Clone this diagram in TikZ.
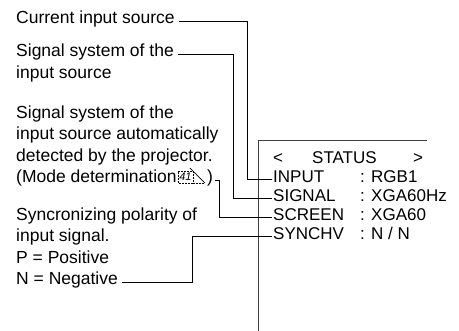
\documentclass[tikz,border=0pt]{standalone}
\usepackage{fontspec}
\setmainfont{Liberation Sans}
\begin{document}
\begin{tikzpicture}[x=1pt,y=-1pt,
  lefttxt/.style={anchor=base west,inner sep=0pt,font=\fontsize{17.5}{21.5}\selectfont},
  righttxt/.style={anchor=base west,inner sep=0pt,font=\fontsize{17}{19}\selectfont},
  leader/.style={line width=0.9pt,black},
  framestyle/.style={line width=0.9pt,black!75}]
\useasboundingbox (0,0) rectangle (459,331);
% left column
\node[lefttxt] (cur) at (16,24) {Current input source};
\node[lefttxt] (sig1) at (16,57) {Signal system of the};
\node[lefttxt] (sig2) at (16,78.5) {input source};
\node[lefttxt] (det1) at (16,118.5) {Signal system of the};
\node[lefttxt] (det2) at (16,140) {input source automatically};
\node[lefttxt] (det3) at (16,161.5) {detected by the projector.};
\node[lefttxt] (det4) at (16,183) {(Mode determination};
\coordinate (ic) at ([xshift=1pt]det4.base east);
\draw[line width=0.5pt,densely dotted] (ic) rectangle ([shift={(15,-12)}]ic);
\node[anchor=base,inner sep=0pt,font=\fontsize{11}{11}\selectfont\itshape] (pg) at ([xshift=7.5pt,yshift=2pt]ic) {41};
\draw[line width=0.7pt] ([shift={(12,-15)}]ic) -- ([shift={(27,0)}]ic);
\draw[line width=0.5pt,densely dotted] ([shift={(15,0)}]ic) -- ([shift={(27,0)}]ic);
\node[lefttxt] (par) at ([xshift=29pt]ic) {)};
\node[lefttxt] (syn1) at (16,220.5) {Syncronizing polarity of};
\node[lefttxt] (syn2) at (16,242) {input signal.};
\node[lefttxt] (syn3) at (16,263.5) {P = Positive};
\node[lefttxt] (syn4) at (16,285) {N = Negative};
% screen frame
\coordinate (ftop) at (258,140);
\coordinate (fbot) at (258,331);
\coordinate (fright) at (427,140);
\draw[framestyle] (fbot) -- (ftop) -- (fright);
% right column
\node[righttxt] (lt) at (273,163.5) {<};
\node[righttxt] (st) at (312,163.5) {STATUS};
\node[righttxt] (gt) at (413,163.5) {>};
\node[righttxt] (inp) at (273,182.5) {INPUT};
\node[righttxt] (sgn) at (273,201.5) {SIGNAL};
\node[righttxt] (scr) at (273,220.5) {SCREEN};
\node[righttxt] (snc) at (273,239.5) {SYNCHV};
\node[righttxt] (vinp) at (360,182.5) {: RGB1};
\node[righttxt] (vsgn) at (360,201.5) {: XGA60Hz};
\node[righttxt] (vscr) at (360,220.5) {: XGA60};
\node[righttxt] (vsnc) at (360,239.5) {: N / N};
% leader lines
\coordinate (xa) at (247,0);
\coordinate (xb) at (233,0);
\coordinate (xc) at (219,0);
\coordinate (xd) at (192,0);
\draw[leader] ([xshift=4pt]cur.mid east) -- (cur.mid east -| xa) -- (xa |- inp.mid west) -- ([xshift=-1.5pt]inp.mid west);
\draw[leader] ([xshift=4pt]sig1.mid east) -- (sig1.mid east -| xb) -- (xb |- sgn.mid west) -- ([xshift=-1.5pt]sgn.mid west);
\draw[leader] ([xshift=2pt]par.mid east) -- (par.mid east -| xc) -- (xc |- scr.mid west) -- ([xshift=-1.5pt]scr.mid west);
\draw[leader] ([xshift=4pt]syn4.mid east) -- (syn4.mid east -| xd) -- (xd |- snc.mid west) -- ([xshift=-1.5pt]snc.mid west);
\end{tikzpicture}
\end{document}
